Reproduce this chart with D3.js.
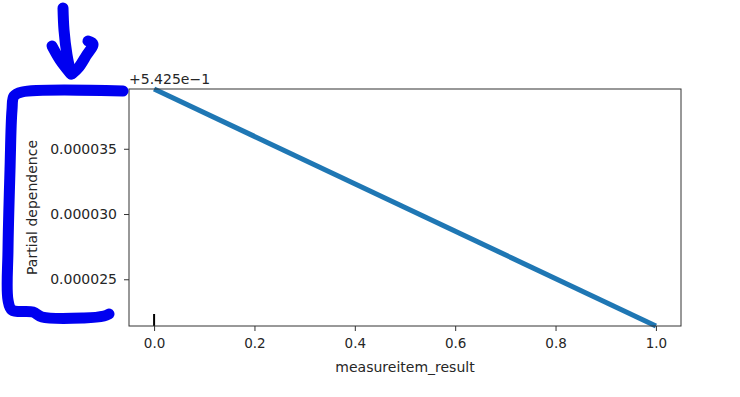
<!DOCTYPE html>
<html>
<head>
<meta charset="utf-8">
<script src="https://cdn.jsdelivr.net/npm/d3@7"></script>
<style>
  body { margin: 0; background: #fff; }
  svg { display: block; }
  text { font-family: "DejaVu Sans", sans-serif; fill: #262626; }
</style>
</head>
<body>
<svg id="chart" width="740" height="397"></svg>
<script>
// partial dependence of measureitem_result
const gridValues = [0.0, 1.0];
const pdValues = [0.54253958, 0.54252142];
const yOffset = 0.5425;
const offsetLabel = "+5.425e\u22121";
const deciles = [0.0];
const xTicks = [0.0, 0.2, 0.4, 0.6, 0.8, 1.0];
const yTicks = [0.000025, 0.000030, 0.000035];
const xLabel = "measureitem_result";
const yLabel = "Partial dependence";

// hand drawn marker on top of the screenshot
const arrowShaft = [[63, 8], [64, 30], [67, 55], [71, 74]];
const arrowLeft = [[52, 46], [60, 60], [70, 73]];
const arrowRight = [[88, 41], [93, 44], [86, 56], [79, 67], [72, 74]];
const bracket = [[123, 91], [22, 92], [14, 96], [12, 110], [10, 170], [8, 250], [8, 300], [12, 310], [33, 312], [42, 317], [84, 318], [104, 316], [109, 314]];

const margin = {top: 89, right: 59, bottom: 71, left: 129};
const width = 740, height = 397;

const svg = d3.select("#chart");

const x = d3.scaleLinear()
  .domain([-0.05, 1.05])
  .range([margin.left, width - margin.right]);

const yData = pdValues.map(v => v - yOffset);
const y = d3.scaleLinear()
  .domain(d3.extent(yData))
  .range([height - margin.bottom, margin.top]);

// x axis
const xAxis = svg.append("g")
  .attr("transform", `translate(0,${height - margin.bottom})`)
  .call(d3.axisBottom(x).tickValues(xTicks).tickFormat(d3.format(".1f")).tickSize(5).tickPadding(7));
xAxis.select(".domain").remove();
xAxis.selectAll("line").attr("stroke", "#333");
xAxis.selectAll("text").attr("font-size", 13.5).attr("font-family", "DejaVu Sans").attr("fill", "#262626");

// y axis
const yAxis = svg.append("g")
  .attr("transform", `translate(${margin.left},0)`)
  .call(d3.axisLeft(y).tickValues(yTicks).tickFormat(d3.format(".6f")).tickSize(5).tickPadding(7));
yAxis.select(".domain").remove();
yAxis.selectAll("line").attr("stroke", "#333");
yAxis.selectAll("text").attr("font-size", 14).attr("font-family", "DejaVu Sans").attr("fill", "#262626");

// pd line
const line = d3.line()
  .x((d, i) => x(gridValues[i]))
  .y(d => y(d));

svg.append("path")
  .datum(yData)
  .attr("d", line)
  .attr("fill", "none")
  .attr("stroke", "#1f77b4")
  .attr("stroke-width", 5);

// deciles rug
svg.selectAll(".rug")
  .data(deciles)
  .enter()
  .append("line")
  .attr("class", "rug")
  .attr("x1", d => x(d))
  .attr("x2", d => x(d))
  .attr("y1", height - margin.bottom)
  .attr("y2", height - margin.bottom - 12)
  .attr("stroke", "#000")
  .attr("stroke-width", 2);

// frame
svg.append("rect")
  .attr("x", margin.left)
  .attr("y", margin.top)
  .attr("width", width - margin.left - margin.right)
  .attr("height", height - margin.top - margin.bottom)
  .attr("fill", "none")
  .attr("stroke", "#333")
  .attr("stroke-width", 1);

// offset text and labels
svg.append("text")
  .attr("x", margin.left)
  .attr("y", 84)
  .attr("font-size", 14)
  .text(offsetLabel);

svg.append("text")
  .attr("x", (margin.left + width - margin.right) / 2)
  .attr("y", 372)
  .attr("text-anchor", "middle")
  .attr("font-size", 14)
  .text(xLabel);

svg.append("text")
  .attr("transform", `translate(37,${(margin.top + height - margin.bottom) / 2}) rotate(-90)`)
  .attr("text-anchor", "middle")
  .attr("font-size", 14)
  .text(yLabel);

// blue marker strokes
const pen = d3.line().curve(d3.curveCatmullRom);
[arrowShaft, arrowLeft, arrowRight, bracket].forEach(pts => {
  svg.append("path")
    .attr("d", pen(pts))
    .attr("fill", "none")
    .attr("stroke", "#0000f0")
    .attr("stroke-width", 11)
    .attr("stroke-linecap", "round")
    .attr("stroke-linejoin", "round");
});
</script>
</body>
</html>
